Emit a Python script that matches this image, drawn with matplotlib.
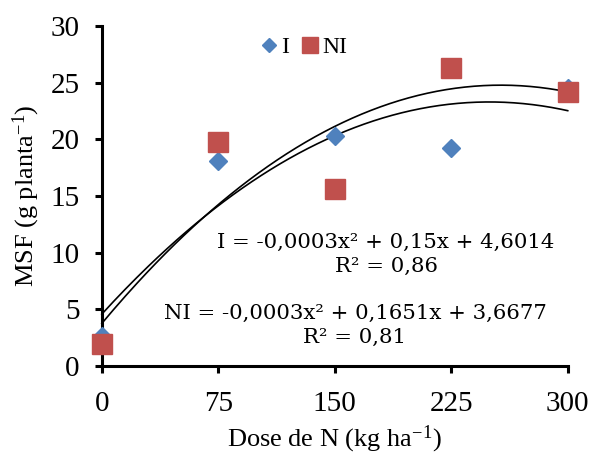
import matplotlib
matplotlib.use('Agg')
import matplotlib.pyplot as plt
import numpy as np

plt.rcParams['font.family'] = 'Liberation Serif'
plt.rcParams['mathtext.fontset'] = 'custom'
plt.rcParams['mathtext.rm'] = 'Liberation Serif'
plt.rcParams['mathtext.it'] = 'Liberation Serif:italic'

# data
dose = [0, 75, 150, 225, 300]
msf_i = [2.6, 18.1, 20.3, 19.2, 24.5]
msf_ni = [1.9, 19.8, 15.6, 26.3, 24.2]

blue = '#4F81BD'
red = '#C0504D'

fig = plt.figure(figsize=(5.92, 4.58), dpi=100)
ax = fig.add_axes([0.172, 0.201, 0.787, 0.742])

# trend lines (2nd order fit)
xs = np.linspace(0, 300, 200)
for yy in [msf_i, msf_ni]:
    c = np.polyfit(dose, yy, 2)
    ax.plot(xs, np.polyval(c, xs), color='black', lw=1.2, zorder=2)

ax.plot(dose, msf_i, ls='None', marker='D', ms=9.5, color=blue, label='I', zorder=3)
ax.plot(dose, msf_ni, ls='None', marker='s', ms=14, color=red, label='NI', zorder=4)

ax.set_xlim(0, 300)
ax.set_ylim(0, 30)
ax.set_xticks([0, 75, 150, 225, 300])
ax.set_yticks([0, 5, 10, 15, 20, 25, 30])
ax.spines['top'].set_visible(False)
ax.spines['right'].set_visible(False)
ax.spines['left'].set_linewidth(2.2)
ax.spines['bottom'].set_linewidth(2.2)
ax.tick_params(axis='both', labelsize=21, width=2.2, length=5, direction='out')
ax.tick_params(axis='x', pad=13)
ax.tick_params(axis='y', pad=11)
for l in ax.lines:
    l.set_clip_on(False)

ax.set_xlabel('Dose de N (kg ha$^{-1}$)', fontsize=19, labelpad=5)
ax.set_ylabel('MSF (g planta$^{-1}$)', fontsize=19, labelpad=6)

ax.legend(loc='center left', bbox_to_anchor=(0.335, 0.938), ncol=2, frameon=False,
          fontsize=17, handletextpad=0.1, columnspacing=0.4, handlelength=0.9,
          markerscale=0.8, borderaxespad=0, borderpad=0)

eq_font = dict(family='DejaVu Serif', fontsize=15.3, ha='center', va='center', linespacing=1.3)
ax.text(183, 9.85, 'I = -0,0003x² + 0,15x + 4,6014\nR² = 0,86', **eq_font)
ax.text(163, 3.6, 'NI = -0,0003x² + 0,1651x + 3,6677\nR² = 0,81', **eq_font)

fig.savefig('out.png', dpi=100)
